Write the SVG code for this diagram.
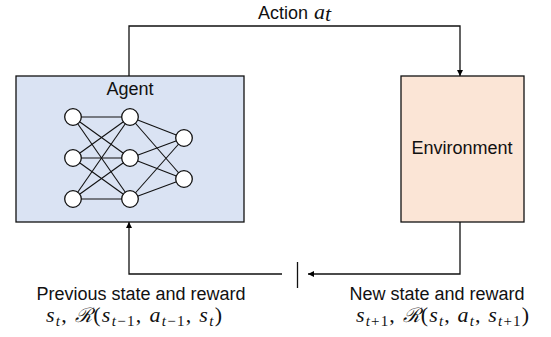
<svg xmlns="http://www.w3.org/2000/svg" width="551" height="337" viewBox="0 0 551 337">
<defs>
<marker id="ah" viewBox="0 0 10 10" refX="10" refY="5" markerWidth="6" markerHeight="6" markerUnits="userSpaceOnUse" orient="auto"><path d="M0,0 L10,5 L0,10 z" fill="#000"/></marker>
<style>
.lbl{font-family:"Liberation Sans",Arial,sans-serif;font-size:18px;fill:#111}
.m{font-family:"Liberation Serif","Times New Roman",serif;font-size:22px;fill:#111}
.i{font-style:italic}
.sub{font-size:15px}
.cal{font-family:"DejaVu Serif","Liberation Serif",serif;font-size:20px}
.conn{fill:none;stroke:#111;stroke-width:1.3}
.nn{stroke:#111;stroke-width:1.1}
.neu{fill:#fff;stroke:#111;stroke-width:1.3}
</style>
</defs>
<rect width="551" height="337" fill="#fff"/>
<g id="connectors">
<polyline class="conn" points="129,76 129,26 460,26 460,76" marker-end="url(#ah)"/>
<polyline class="conn" points="460,222 460,274 308,274" marker-end="url(#ah)"/>
<line class="conn" x1="297.5" y1="262" x2="297.5" y2="288"/>
<polyline class="conn" points="282,274 129,274 129,222" marker-end="url(#ah)"/>
</g>
<g id="agent">
<rect x="16" y="76" width="228" height="146" fill="#dae3f3" stroke="#111" stroke-width="1.3"/>
<text class="lbl" x="130" y="95" text-anchor="middle">Agent</text>
<g id="network">
<g class="nn">
<line x1="73" y1="117" x2="130" y2="117"/><line x1="73" y1="117" x2="130" y2="158"/><line x1="73" y1="117" x2="130" y2="199"/>
<line x1="73" y1="158" x2="130" y2="117"/><line x1="73" y1="158" x2="130" y2="158"/><line x1="73" y1="158" x2="130" y2="199"/>
<line x1="73" y1="199" x2="130" y2="117"/><line x1="73" y1="199" x2="130" y2="158"/><line x1="73" y1="199" x2="130" y2="199"/>
<line x1="130" y1="117" x2="184" y2="138"/><line x1="130" y1="117" x2="184" y2="179"/>
<line x1="130" y1="158" x2="184" y2="138"/><line x1="130" y1="158" x2="184" y2="179"/>
<line x1="130" y1="199" x2="184" y2="138"/><line x1="130" y1="199" x2="184" y2="179"/>
</g>
<circle class="neu" cx="73" cy="117" r="8.3"/><circle class="neu" cx="73" cy="158" r="8.3"/><circle class="neu" cx="73" cy="199" r="8.3"/>
<circle class="neu" cx="130" cy="117" r="8.3"/><circle class="neu" cx="130" cy="158" r="8.3"/><circle class="neu" cx="130" cy="199" r="8.3"/>
<circle class="neu" cx="184" cy="138" r="8.3"/><circle class="neu" cx="184" cy="179" r="8.3"/>
</g>
</g>
<g id="environment">
<rect x="401" y="76" width="123" height="146" fill="#fbe5d6" stroke="#111" stroke-width="1.3"/>
<text class="lbl" x="462" y="154" text-anchor="middle">Environment</text>
</g>
<g id="labels">
<text class="lbl" x="258" y="19">Action <tspan class="m i" font-size="20" dx="1">a</tspan><tspan class="m i" font-size="15" dy="2">t</tspan></text>
<text class="lbl" x="141" y="300" text-anchor="middle">Previous state and reward</text>
<text class="lbl" x="437" y="300" text-anchor="middle">New state and reward</text>
<text class="m" x="46" y="322" textLength="176" lengthAdjust="spacing"><tspan class="i">s</tspan><tspan class="sub i" dy="4">t</tspan><tspan dy="-4">, </tspan><tspan class="cal i">ℛ</tspan>(<tspan class="i">s</tspan><tspan class="sub" dy="4"><tspan class="i">t</tspan>−1</tspan><tspan dy="-4">, </tspan><tspan class="i">a</tspan><tspan class="sub" dy="4"><tspan class="i">t</tspan>−1</tspan><tspan dy="-4">, </tspan><tspan class="i">s</tspan><tspan class="sub i" dy="4">t</tspan><tspan dy="-4">)</tspan></text>
<text class="m" x="356" y="322" textLength="173" lengthAdjust="spacing"><tspan class="i">s</tspan><tspan class="sub" dy="4"><tspan class="i">t</tspan>+1</tspan><tspan dy="-4">, </tspan><tspan class="cal i">ℛ</tspan>(<tspan class="i">s</tspan><tspan class="sub i" dy="4">t</tspan><tspan dy="-4">, </tspan><tspan class="i">a</tspan><tspan class="sub i" dy="4">t</tspan><tspan dy="-4">, </tspan><tspan class="i">s</tspan><tspan class="sub" dy="4"><tspan class="i">t</tspan>+1</tspan><tspan dy="-4">)</tspan></text>
</g>
</svg>
